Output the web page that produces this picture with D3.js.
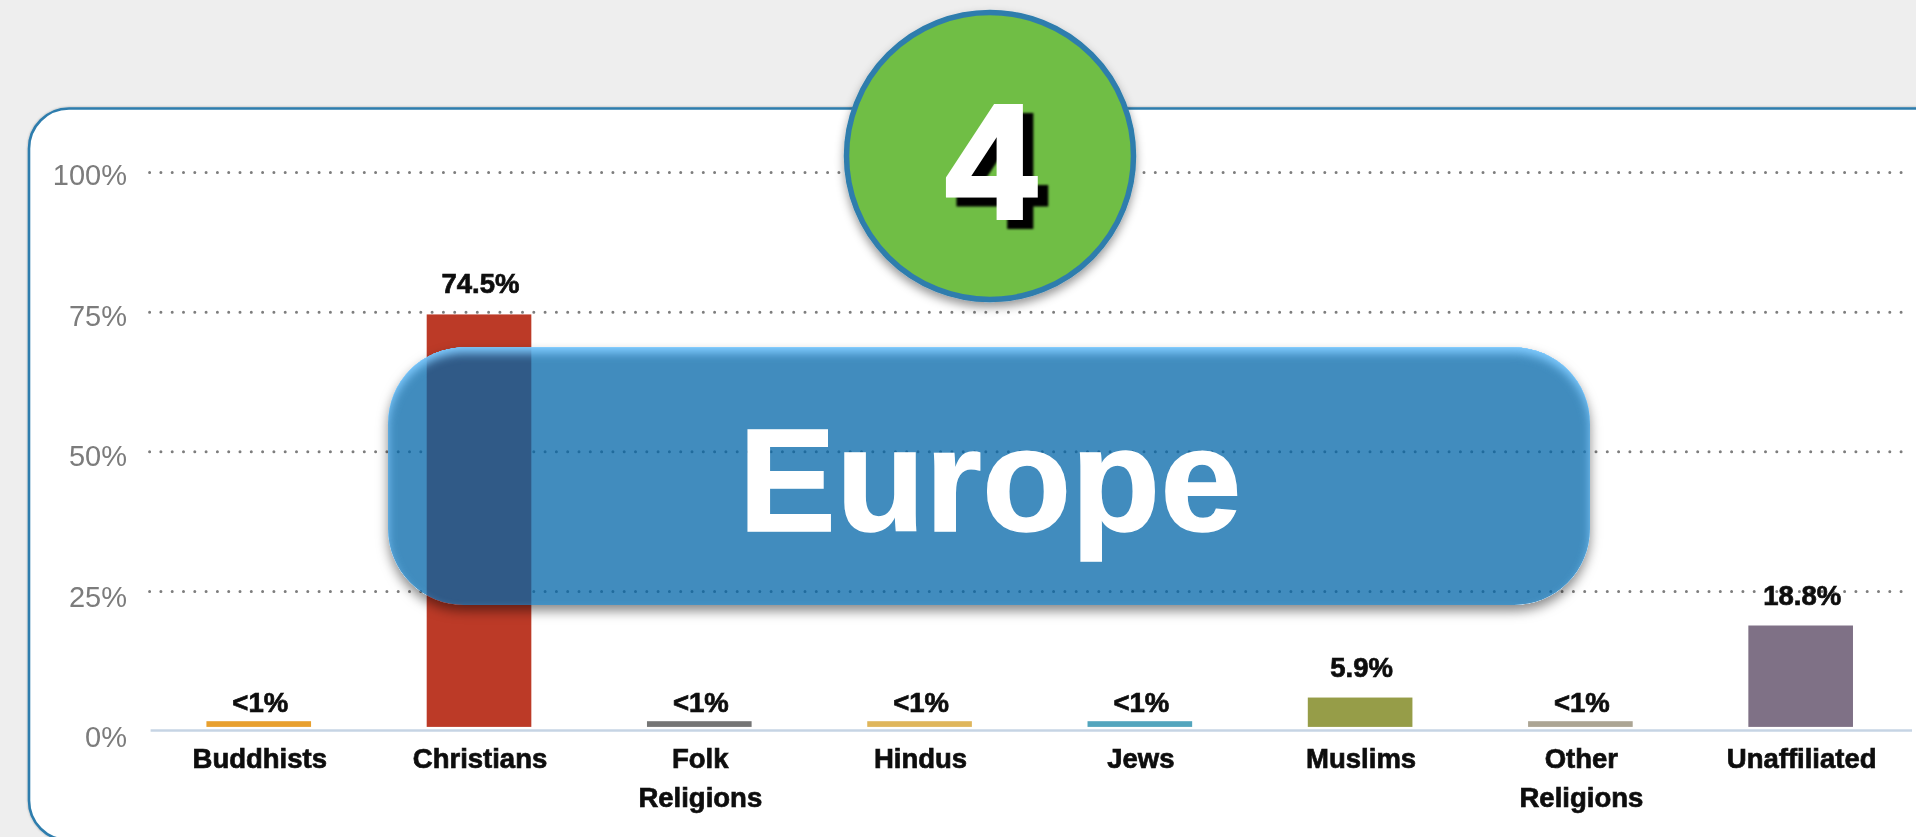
<!DOCTYPE html>
<html>
<head>
<meta charset="utf-8">
<script src="https://cdn.jsdelivr.net/npm/d3@7/dist/d3.min.js"></script>
<style>
html,body{margin:0;padding:0;background:#eeeeee;overflow:hidden}
svg{display:block}
text{font-family:"Liberation Sans",Arial,sans-serif}
</style>
</head>
<body>
<div id="chart"></div>
<script>
const categories = ["Buddhists","Christians","Folk Religions","Hindus","Jews","Muslims","Other Religions","Unaffiliated"];
const values = [0.9,74.5,0.9,0.9,0.9,5.9,0.9,18.8];
const valueLabels = ["<1%","74.5%","<1%","<1%","<1%","5.9%","<1%","18.8%"];
const barColors = ["#e8a02f","#bc3a27","#757575","#dfb65c","#53a5bd","#969d48","#aca594","#7f7186"];
const yTicks = [0,25,50,75,100];
const badgeNumber = "4";
const regionName = "Europe";

const W = 1916, H = 837;
const svg = d3.select("#chart").append("svg").attr("width",W).attr("height",H);
const defs = svg.append("defs");

const soft = defs.append("filter").attr("id","soft").attr("x","-10%").attr("y","-30%").attr("width","120%").attr("height","160%");
soft.append("feGaussianBlur").attr("stdDeviation",0.6);

const cardShadow = defs.append("filter").attr("id","cardShadow").attr("x","-2%").attr("y","-2%").attr("width","104%").attr("height","104%");
cardShadow.append("feDropShadow").attr("dx",0).attr("dy",0).attr("stdDeviation",1.2).attr("flood-color","#000").attr("flood-opacity",0.3);

const circleShadow = defs.append("filter").attr("id","circleShadow").attr("x","-20%").attr("y","-20%").attr("width","140%").attr("height","140%");
circleShadow.append("feDropShadow").attr("dx",0).attr("dy",5).attr("stdDeviation",5).attr("flood-color","#000").attr("flood-opacity",0.4);

const numShadow = defs.append("filter").attr("id","numShadow").attr("x","-30%").attr("y","-30%").attr("width","160%").attr("height","160%");
numShadow.append("feGaussianBlur").attr("stdDeviation",0.9);

const bf = defs.append("filter").attr("id","bannerFx").attr("x","-5%").attr("y","-15%").attr("width","110%").attr("height","130%").attr("color-interpolation-filters","sRGB");
bf.append("feOffset").attr("in","SourceAlpha").attr("dx",0).attr("dy",6).attr("result","so");
bf.append("feGaussianBlur").attr("in","so").attr("stdDeviation",6).attr("result","sb");
bf.append("feFlood").attr("flood-color","#000").attr("flood-opacity",0.62).attr("result","sc");
bf.append("feComposite").attr("in","sc").attr("in2","sb").attr("operator","in").attr("result","s1");
bf.append("feComponentTransfer").attr("in","SourceAlpha").attr("result","solid").append("feFuncA").attr("type","linear").attr("slope",4);
bf.append("feComposite").attr("in","s1").attr("in2","solid").attr("operator","out").attr("result","shadow");
bf.append("feFlood").attr("flood-color","#7fcbff").attr("flood-opacity",1).attr("result","gc");
bf.append("feComposite").attr("in","gc").attr("in2","solid").attr("operator","out").attr("result","outside");
bf.append("feOffset").attr("in","outside").attr("dx",0).attr("dy",6).attr("result","oo");
bf.append("feGaussianBlur").attr("in","oo").attr("stdDeviation",5).attr("result","ob");
bf.append("feComposite").attr("in","ob").attr("in2","solid").attr("operator","in").attr("result","glow");
const bm = bf.append("feMerge");
["shadow","SourceGraphic","glow"].forEach(n=>bm.append("feMergeNode").attr("in",n));

// card
svg.append("rect").attr("x",29).attr("y",108.5).attr("width",W+60).attr("height",H-108+3).attr("rx",40).attr("ry",40)
  .attr("fill","#fff").attr("stroke","#2e7dad").attr("stroke-width",2.6).attr("filter","url(#cardShadow)");

// scales
const x = d3.scaleBand().domain(categories).range([148.6,1910.8]).paddingInner(0.525).paddingOuter(0.2625);
const y = d3.scaleLinear().domain([0,100]).range([730.5,172]);
const barFloor = y(0) - 3.6;
const minStub = 5.7;

// y axis with dotted gridlines
const yAxis = d3.axisLeft(y).tickValues(yTicks).tickFormat(d=>d+"%").tickSize(0).tickPadding(0);
const gy = svg.append("g").attr("transform","translate(127,0)").call(yAxis);
gy.select(".domain").remove();
gy.selectAll("text").attr("x",0).attr("dy",d=>16-d*0.035).attr("font-size",29).attr("fill","#7b7b7b")
  .attr("font-family",'"Liberation Sans",Arial,sans-serif').attr("filter","url(#soft)");
gy.selectAll(".tick").filter(d=>d>0).append("line")
  .attr("x1",22.6).attr("x2",1775).attr("y1",0).attr("y2",0)
  .attr("stroke","#7d7d7d").attr("stroke-width",3).attr("stroke-linecap","round")
  .attr("stroke-dasharray","0 11.3");

// x axis
const xAxis = d3.axisBottom(x).tickSize(0).tickPadding(0).tickFormat("");
const gx = svg.append("g").attr("transform",`translate(0,${y(0)})`).call(xAxis);
gx.select(".domain").attr("d","M150.6,0H1912").attr("stroke","#c6d4e4").attr("stroke-width",2.4);
gx.selectAll(".tick text").remove();
gx.selectAll(".tick").append("text")
  .attr("text-anchor","middle").attr("font-size",27.5).attr("font-weight",700).attr("fill","#0d0d0d")
  .attr("stroke","#0d0d0d").attr("stroke-width",0.7)
  .attr("filter","url(#soft)")
  .each(function(d){
    const parts = d.split(" ");
    const t = d3.select(this);
    parts.forEach((p,i)=>t.append("tspan").attr("x",1).attr("y",37.5+i*38.5).text(p));
  });

// bars
const barTop = v => Math.min(y(v), barFloor - minStub);
svg.append("g").selectAll("rect").data(categories).join("rect")
  .attr("x",d=>x(d)).attr("width",x.bandwidth())
  .attr("y",(d,i)=>barTop(values[i]))
  .attr("height",(d,i)=>barFloor-barTop(values[i]))
  .attr("fill",(d,i)=>barColors[i]);

// value labels
svg.append("g").selectAll("text").data(categories).join("text")
  .attr("x",d=>x(d)+x.bandwidth()/2+1.5)
  .attr("y",(d,i)=>barTop(values[i]) - (values[i]<1 ? 9 : 21))
  .attr("text-anchor","middle").attr("font-size",27.5).attr("font-weight",700).attr("fill","#0d0d0d")
  .attr("stroke","#0d0d0d").attr("stroke-width",0.7)
  .attr("filter","url(#soft)")
  .text((d,i)=>valueLabels[i]);

// badge
svg.append("circle").attr("cx",990).attr("cy",156).attr("r",143.5)
  .attr("fill","#6fbe44").attr("stroke","#2e7dad").attr("stroke-width",5.5).attr("filter","url(#circleShadow)");
svg.append("text").attr("x",1001.5).attr("y",226.5).attr("text-anchor","middle")
  .attr("font-size",162).attr("font-weight",700).attr("fill","#000").attr("stroke","#000").attr("stroke-width",5)
  .attr("filter","url(#numShadow)").text(badgeNumber);
svg.append("text").attr("x",991).attr("y",217.5).attr("text-anchor","middle")
  .attr("font-size",162).attr("font-weight",700).attr("fill","#fff").attr("stroke","#fff").attr("stroke-width",5).text(badgeNumber);

// banner
svg.append("rect").attr("x",388).attr("y",347.5).attr("width",1202).attr("height",257.5).attr("rx",76).attr("ry",76)
  .attr("fill","#0266a8").attr("fill-opacity",0.75).attr("filter","url(#bannerFx)");
svg.append("text").attr("x",990).attr("y",531).attr("text-anchor","middle")
  .attr("font-size",146).attr("font-weight",700).attr("fill","#fff").attr("stroke","#fff").attr("stroke-width",1.5).text(regionName);
</script>
</body>
</html>
